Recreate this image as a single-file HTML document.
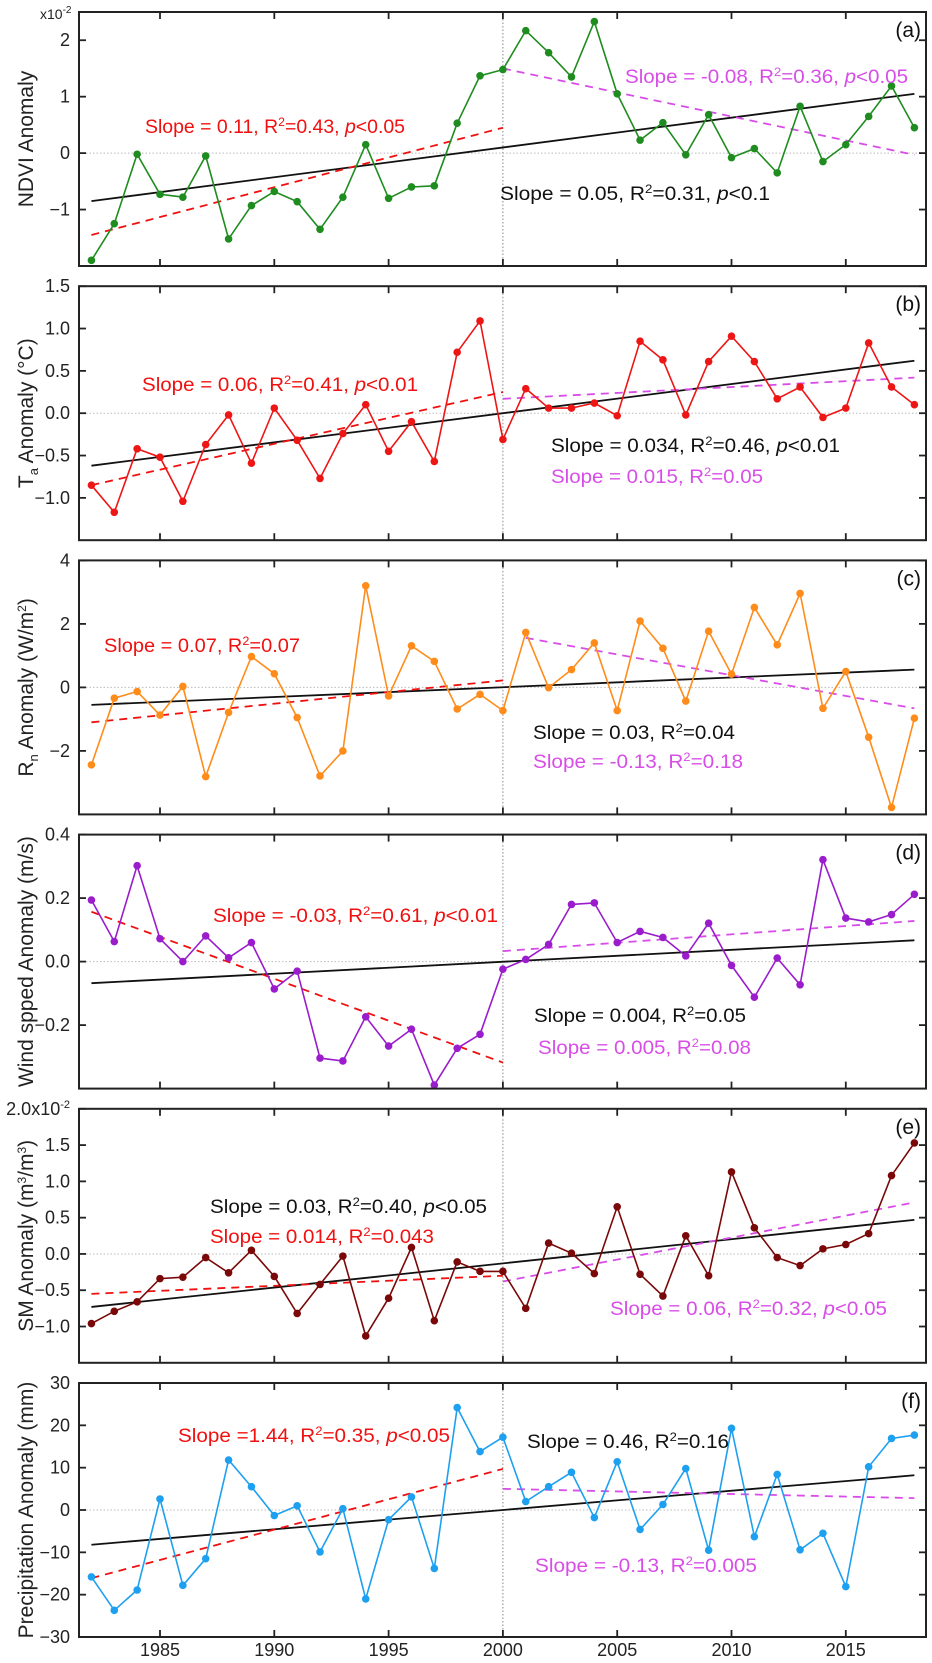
<!DOCTYPE html>
<html><head><meta charset="utf-8">
<style>
html,body{margin:0;padding:0;background:#fff;}
svg{display:block;font-family:"Liberation Sans",Arial,sans-serif;}
</style></head>
<body>
<svg id="chart" width="932" height="1663" viewBox="0 0 932 1663" xmlns="http://www.w3.org/2000/svg"></svg>
<script>
// ---- data ----
const startYear = 1982;
const endYear = 2018;
const xTickYears = [1985, 1990, 1995, 2000, 2005, 2010, 2015];

const ndviValues = [-1.9,-1.25,-0.02,-0.73,-0.78,-0.05,-1.52,-0.93,-0.68,-0.86,-1.35,-0.78,0.15,-0.8,-0.6,-0.58,0.53,1.37,1.48,2.17,1.78,1.35,2.33,1.05,0.23,0.54,-0.03,0.68,-0.08,0.08,-0.35,0.83,-0.15,0.15,0.65,1.19,0.45];
const taValues = [-0.85,-1.17,-0.42,-0.52,-1.04,-0.37,-0.02,-0.59,0.06,-0.32,-0.77,-0.24,0.10,-0.45,-0.10,-0.57,0.72,1.09,-0.31,0.29,0.06,0.06,0.12,-0.03,0.85,0.63,-0.02,0.61,0.91,0.61,0.17,0.31,-0.05,0.06,0.83,0.31,0.10];
const rnValues = [-2.44,-0.34,-0.13,-0.87,0.03,-2.81,-0.79,0.97,0.43,-0.95,-2.79,-2.0,3.2,-0.27,1.31,0.82,-0.68,-0.22,-0.73,1.73,-0.01,0.56,1.4,-0.73,2.09,1.23,-0.43,1.77,0.42,2.52,1.34,2.96,-0.66,0.5,-1.57,-3.78,-0.97];
const windValues = [0.194,0.063,0.302,0.072,0.0,0.081,0.012,0.06,-0.086,-0.03,-0.304,-0.313,-0.174,-0.266,-0.213,-0.389,-0.273,-0.229,-0.024,0.007,0.054,0.18,0.185,0.06,0.095,0.076,0.018,0.121,-0.012,-0.112,0.011,-0.073,0.321,0.137,0.125,0.148,0.212];
const smValues = [-0.96,-0.79,-0.66,-0.34,-0.32,-0.05,-0.26,0.05,-0.31,-0.82,-0.42,-0.03,-1.13,-0.61,0.09,-0.92,-0.11,-0.24,-0.24,-0.75,0.15,0.01,-0.27,0.65,-0.28,-0.58,0.25,-0.30,1.13,0.36,-0.05,-0.16,0.07,0.13,0.28,1.08,1.53];
const precipValues = [-15.8,-23.7,-18.9,2.6,-17.8,-11.5,11.8,5.5,-1.3,1.0,-9.9,0.3,-21.0,-2.3,3.1,-13.8,24.2,13.8,17.2,2.0,5.5,8.9,-1.8,11.4,-4.6,1.3,9.8,-9.5,19.3,-6.3,8.4,-9.4,-5.5,-18.1,10.2,16.9,17.7];

// trend endpoints [yearStart, valueStart, yearEnd, valueEnd]
const ndviTrends = {all:[1982,-0.85,2018,1.05], early:[1982,-1.45,2000,0.45], late:[2000,1.5,2018,-0.03]};
const taTrends = {all:[1982,-0.62,2018,0.62], early:[1982,-0.85,2000,0.25], late:[2000,0.17,2018,0.42]};
const rnTrends = {all:[1982,-0.55,2018,0.56], early:[1982,-1.1,2000,0.22], late:[2001,1.56,2018,-0.66]};
const windTrends = {all:[1982,-0.068,2018,0.067], early:[1982,0.157,2000,-0.318], late:[2000,0.033,2018,0.128]};
const smTrends = {all:[1982,-0.73,2018,0.47], early:[1982,-0.55,2000,-0.3], late:[2000,-0.38,2018,0.71]};
const precipTrends = {all:[1982,-8.2,2018,8.2], early:[1982,-16.1,2000,9.7], late:[2000,5.0,2018,2.8]};

const ndviTicks = [2,1,0,-1];
const taTicks = [1.5,1.0,0.5,0.0,-0.5,-1.0];
const rnTicks = [4,2,0,-2];
const windTicks = [0.4,0.2,0.0,-0.2];
const smTicks = [2.0,1.5,1.0,0.5,0.0,-0.5,-1.0];
const precipTicks = [30,20,10,0,-10,-20,-30];

const NS = "http://www.w3.org/2000/svg";
const svg = document.getElementById('chart');
const L = 79, R = 926, H = 254;
function xs(yr){ return 160 + (yr - 1985) * 22.86; }
function mk(tag, attrs, parent){
  const e = document.createElementNS(NS, tag);
  for (const k in attrs) e.setAttribute(k, attrs[k]);
  (parent || svg).appendChild(e);
  return e;
}
function fmt(v, dec){ let s = v.toFixed(dec); if (v < 0) s = '\u2212' + s.slice(1); return s; }

const panels = [
  {key:'ndvi', vals:ndviValues, tr:ndviTrends, ticks:ndviTicks, dec:0, min:-2, max:2.5, color:'#1e8c1e', label:'(a)',
   title:'NDVI Anomaly',
   notes:[
    {c:'#f01010', x1:145, x2:405, y:133, t:'Slope = 0.11, R<tspan dy="-7" font-size="12">2</tspan><tspan dy="7">=0.43, </tspan><tspan font-style="italic">p</tspan>&lt;0.05'},
    {c:'#d84de8', x1:625, x2:908, y:83, t:'Slope = -0.08, R<tspan dy="-7" font-size="12">2</tspan><tspan dy="7">=0.36, </tspan><tspan font-style="italic">p</tspan>&lt;0.05'},
    {c:'#111', x1:500, x2:770, y:200, t:'Slope = 0.05, R<tspan dy="-7" font-size="12">2</tspan><tspan dy="7">=0.31, </tspan><tspan font-style="italic">p</tspan>&lt;0.1'}]},
  {key:'ta', vals:taValues, tr:taTrends, ticks:taTicks, dec:1, min:-1.5, max:1.5, color:'#ee1515', label:'(b)',
   title:'T<tspan font-size="13" dy="5">a</tspan><tspan dy="-5"> Anomaly (°C)</tspan>',
   notes:[
    {c:'#f01010', x1:142, x2:418, y:391, t:'Slope = 0.06, R<tspan dy="-7" font-size="12">2</tspan><tspan dy="7">=0.41, </tspan><tspan font-style="italic">p</tspan>&lt;0.01'},
    {c:'#111', x1:551, x2:840, y:452, t:'Slope = 0.034, R<tspan dy="-7" font-size="12">2</tspan><tspan dy="7">=0.46, </tspan><tspan font-style="italic">p</tspan>&lt;0.01'},
    {c:'#d84de8', x1:551, x2:763, y:483, t:'Slope = 0.015, R<tspan dy="-7" font-size="12">2</tspan><tspan dy="7">=0.05</tspan>'}]},
  {key:'rn', vals:rnValues, tr:rnTrends, ticks:rnTicks, dec:0, min:-4, max:4, color:'#ff8c1a', label:'(c)',
   title:'R<tspan font-size="13" dy="5">n</tspan><tspan dy="-5"> Anomaly (W/m</tspan><tspan dy="-7" font-size="12">2</tspan><tspan dy="7">)</tspan>',
   notes:[
    {c:'#f01010', x1:104, x2:300, y:652, t:'Slope = 0.07, R<tspan dy="-7" font-size="12">2</tspan><tspan dy="7">=0.07</tspan>'},
    {c:'#111', x1:533, x2:735, y:739, t:'Slope = 0.03, R<tspan dy="-7" font-size="12">2</tspan><tspan dy="7">=0.04</tspan>'},
    {c:'#d84de8', x1:533, x2:743, y:768, t:'Slope = -0.13, R<tspan dy="-7" font-size="12">2</tspan><tspan dy="7">=0.18</tspan>'}]},
  {key:'wind', vals:windValues, tr:windTrends, ticks:windTicks, dec:1, min:-0.4, max:0.4, color:'#9a1ccc', label:'(d)',
   title:'Wind spped Anomaly (m/s)',
   notes:[
    {c:'#f01010', x1:213, x2:498, y:922, t:'Slope = -0.03, R<tspan dy="-7" font-size="12">2</tspan><tspan dy="7">=0.61, </tspan><tspan font-style="italic">p</tspan>&lt;0.01'},
    {c:'#111', x1:534, x2:746, y:1022, t:'Slope = 0.004, R<tspan dy="-7" font-size="12">2</tspan><tspan dy="7">=0.05</tspan>'},
    {c:'#d84de8', x1:538, x2:751, y:1054, t:'Slope = 0.005, R<tspan dy="-7" font-size="12">2</tspan><tspan dy="7">=0.08</tspan>'}]},
  {key:'sm', vals:smValues, tr:smTrends, ticks:smTicks, dec:1, min:-1.5, max:2.0, color:'#7a0808', label:'(e)',
   title:'SM Anomaly (m<tspan dy="-7" font-size="12">3</tspan><tspan dy="7">/m</tspan><tspan dy="-7" font-size="12">3</tspan><tspan dy="7">)</tspan>',
   notes:[
    {c:'#111', x1:210, x2:487, y:1213, t:'Slope = 0.03, R<tspan dy="-7" font-size="12">2</tspan><tspan dy="7">=0.40, </tspan><tspan font-style="italic">p</tspan>&lt;0.05'},
    {c:'#f01010', x1:210, x2:434, y:1243, t:'Slope = 0.014, R<tspan dy="-7" font-size="12">2</tspan><tspan dy="7">=0.043</tspan>'},
    {c:'#d84de8', x1:610, x2:887, y:1315, t:'Slope = 0.06, R<tspan dy="-7" font-size="12">2</tspan><tspan dy="7">=0.32, </tspan><tspan font-style="italic">p</tspan>&lt;0.05'}]},
  {key:'precip', vals:precipValues, tr:precipTrends, ticks:precipTicks, dec:0, min:-30, max:30, color:'#1ea0f0', label:'(f)',
   title:'Precipitation Anomaly (mm)',
   notes:[
    {c:'#f01010', x1:178, x2:450, y:1442, t:'Slope =1.44, R<tspan dy="-7" font-size="12">2</tspan><tspan dy="7">=0.35, </tspan><tspan font-style="italic">p</tspan>&lt;0.05'},
    {c:'#111', x1:527, x2:729, y:1448, t:'Slope = 0.46, R<tspan dy="-7" font-size="12">2</tspan><tspan dy="7">=0.16</tspan>'},
    {c:'#d84de8', x1:535, x2:757, y:1572, t:'Slope = -0.13, R<tspan dy="-7" font-size="12">2</tspan><tspan dy="7">=0.005</tspan>'}]}
];

panels.forEach(function(p, i){
  const top = 12 + 274.2 * i, bot = top + H;
  const ys = function(v){ return bot - (v - p.min) / (p.max - p.min) * H; };
  const g = mk('g', {});
  
  

  const z = mk('line', {x1:L, x2:R, y1:ys(0), y2:ys(0), stroke:'#bbb', 'stroke-width':1, 'stroke-dasharray':'1.5,2'}, g);
  
  
  const dv = mk('line', {x1:xs(2000), x2:xs(2000), y1:top, y2:bot, stroke:'#888', 'stroke-width':1, 'stroke-dasharray':'1.5,2'}, g);
  
  

  xTickYears.forEach(function(yr){
    const t1 = mk('line', {x1:xs(yr), x2:xs(yr), y1:bot, y2:bot-7, stroke:'#222', 'stroke-width':1.8}, g);
    
    
    const t2 = mk('line', {x1:xs(yr), x2:xs(yr), y1:top, y2:top+7, stroke:'#222', 'stroke-width':1.8}, g);
    
    
  });
  p.ticks.forEach(function(v, k){
    const y = ys(v);
    const a = mk('line', {x1:L, x2:L+7, y1:y, y2:y, stroke:'#222', 'stroke-width':1.8}, g);
    
    
    const b = mk('line', {x1:R, x2:R-7, y1:y, y2:y, stroke:'#222', 'stroke-width':1.8}, g);
    
    
    let lbl = fmt(v, p.dec);
    if (p.key === 'sm' && k === 0) lbl = '2.0x10<tspan dy="-7" font-size="11">-2</tspan>';
    const tl = mk('text', {x:70, y:y+6, 'text-anchor':'end', 'font-size':18, fill:'#222'}, g);
    tl.innerHTML = lbl;
    
    
  });
  if (p.key === 'ndvi') {
    const sc = mk('text', {x:40, y:19, 'font-size':14, fill:'#222'}, g);
    sc.innerHTML = 'x10<tspan dy="-6" font-size="10">-2</tspan>';
    
    
  }
  const cy = (top + bot) / 2;
  const tt = mk('text', {x:0, y:0, 'text-anchor':'middle', 'font-size':21, fill:'#222', transform:'translate(33,' + cy + ') rotate(-90)'}, g);
  tt.innerHTML = p.title;
  
  

  const trendStyles = {all:{c:'#111', d:'none'}, early:{c:'#f01010', d:'8,6'}, late:{c:'#d84de8', d:'8,6'}};
  ['all', 'early', 'late'].forEach(function(k){
    const t = p.tr[k];
    const ln = mk('line', {x1:xs(t[0]), y1:ys(t[1]), x2:xs(t[2]), y2:ys(t[3]), stroke:trendStyles[k].c, 'stroke-width':1.8, 'stroke-dasharray':trendStyles[k].d}, g);
    
    
  });

  const pts = p.vals.map(function(v, j){ return xs(startYear + j).toFixed(1) + ',' + ys(v).toFixed(1); }).join(' ');
  const pl = mk('polyline', {points:pts, fill:'none', stroke:p.color, 'stroke-width':1.6}, g);
  
  
  p.vals.forEach(function(v, j){
    const c = mk('circle', {cx:xs(startYear + j), cy:ys(v), r:3.8, fill:p.color}, g);
    
    
  });

  const fr = mk('rect', {x:L, y:top, width:R-L, height:H, fill:'none', stroke:'#222', 'stroke-width':2}, g);
  
  

  const pla = mk('text', {x:921, y:top+25, 'text-anchor':'end', 'font-size':21, fill:'#111'}, g);
  pla.textContent = p.label;
  
  

  p.notes.forEach(function(n){
    const t = mk('text', {x:n.x1, y:n.y, 'font-size':19, fill:n.c, textLength:(n.x2-n.x1), lengthAdjust:'spacingAndGlyphs'}, g);
    t.innerHTML = n.t;
    
    
  });

  if (i === panels.length - 1) {
    xTickYears.forEach(function(yr){
      const xl = mk('text', {x:xs(yr), y:bot+19, 'text-anchor':'middle', 'font-size':18, fill:'#222'}, g);
      xl.textContent = yr;
      
      
    });
  }
});
</script>
</body></html>
